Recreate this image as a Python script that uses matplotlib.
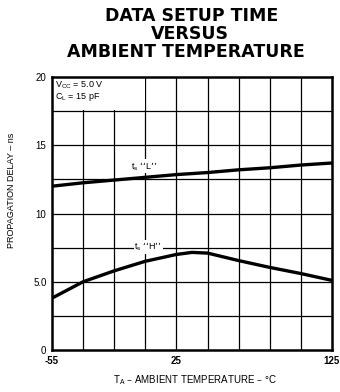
# Data setup time versus ambient temperature (datasheet style chart)

import matplotlib.pyplot as plt
from matplotlib.patches import Rectangle

plt.rcParams['font.family'] = ['Liberation Sans', 'DejaVu Sans']

# Data
temps = [-55, -35, -15, 5, 25, 45, 65, 85, 105, 125]
ts_low = [12.0, 12.25, 12.45, 12.65, 12.85, 13.0, 13.2, 13.35, 13.55, 13.7]

temps_h = [-55, -35, -15, 5, 25, 35, 45, 65, 85, 105, 125]
ts_high = [3.8, 5.0, 5.8, 6.5, 7.0, 7.15, 7.1, 6.55, 6.05, 5.6, 5.1]

x_ticks = [-55, 25, 125]
y_ticks = [0, 5, 10, 15, 20]
y_tick_labels = ['0', '5.0', '10', '15', '20']

fig = plt.figure(figsize=(3.4, 3.92), dpi=100)
ax = fig.add_axes([52 / 340, 1 - 350 / 392, 280 / 340, 273 / 392])

ax.set_xlim(-55, 125)
ax.set_ylim(0, 20)

# grid
for gx in range(-35, 125, 20):
    ax.axvline(gx, color='black', lw=0.9, zorder=1)
for gy in [2.5, 5, 7.5, 10, 12.5, 15, 17.5]:
    ax.axhline(gy, color='black', lw=0.9, zorder=1)

# blank box for the conditions note
ax.add_patch(Rectangle((-55, 17.6), 60, 2.4, facecolor='white', edgecolor='none', zorder=2))
ax.text(-53, 19.85, 'V$_\\mathregular{CC}$ = 5.0 V\nC$_\\mathregular{L}$ = 15 pF',
        fontsize=6.5, va='top', ha='left', linespacing=1.1, zorder=3)

ax.plot(temps, ts_low, color='black', lw=2.4, zorder=4, solid_capstyle='butt')
ax.plot(temps_h, ts_high, color='black', lw=2.4, zorder=4, solid_capstyle='butt')

ax.text(-4, 13.45, 't$_\\mathregular{s}$ \u2018\u2018L\u2019\u2019', fontsize=6.5, ha='left', va='center',
        zorder=3, bbox=dict(facecolor='white', edgecolor='none', pad=0.5))
ax.text(-2, 7.55, 't$_\\mathregular{s}$ \u2018\u2018H\u2019\u2019', fontsize=6.5, ha='left', va='center',
        zorder=3, bbox=dict(facecolor='white', edgecolor='none', pad=0.5))

ax.set_xticks(x_ticks)
ax.set_xticklabels([str(t) for t in x_ticks], fontsize=7, fontweight='bold')
ax.set_yticks(y_ticks)
ax.set_yticklabels(y_tick_labels, fontsize=7)
ax.tick_params(length=0, pad=4)
for s in ax.spines.values():
    s.set_linewidth(1.8)

title_font = dict(family='DejaVu Sans', fontsize=12.5, fontweight='bold', ha='center', va='center')
fig.text(192 / 340, 1 - 16 / 392, 'DATA SETUP TIME', **title_font)
fig.text(190 / 340, 1 - 34 / 392, 'VERSUS', **title_font)
fig.text(186 / 340, 1 - 52 / 392, 'AMBIENT TEMPERATURE', **title_font)

fig.text(12 / 340, 1 - 190 / 392, 'PROPAGATION DELAY \u2013 ns', fontsize=6.5, rotation=90,
         ha='center', va='center')
fig.text(195 / 340, 1 - 380 / 392, 'T$_\\mathregular{A}$ \u2013 AMBIENT TEMPERATURE \u2013 \u00b0C',
         fontsize=7, ha='center', va='center')

fig.savefig('out.png', dpi=100)
